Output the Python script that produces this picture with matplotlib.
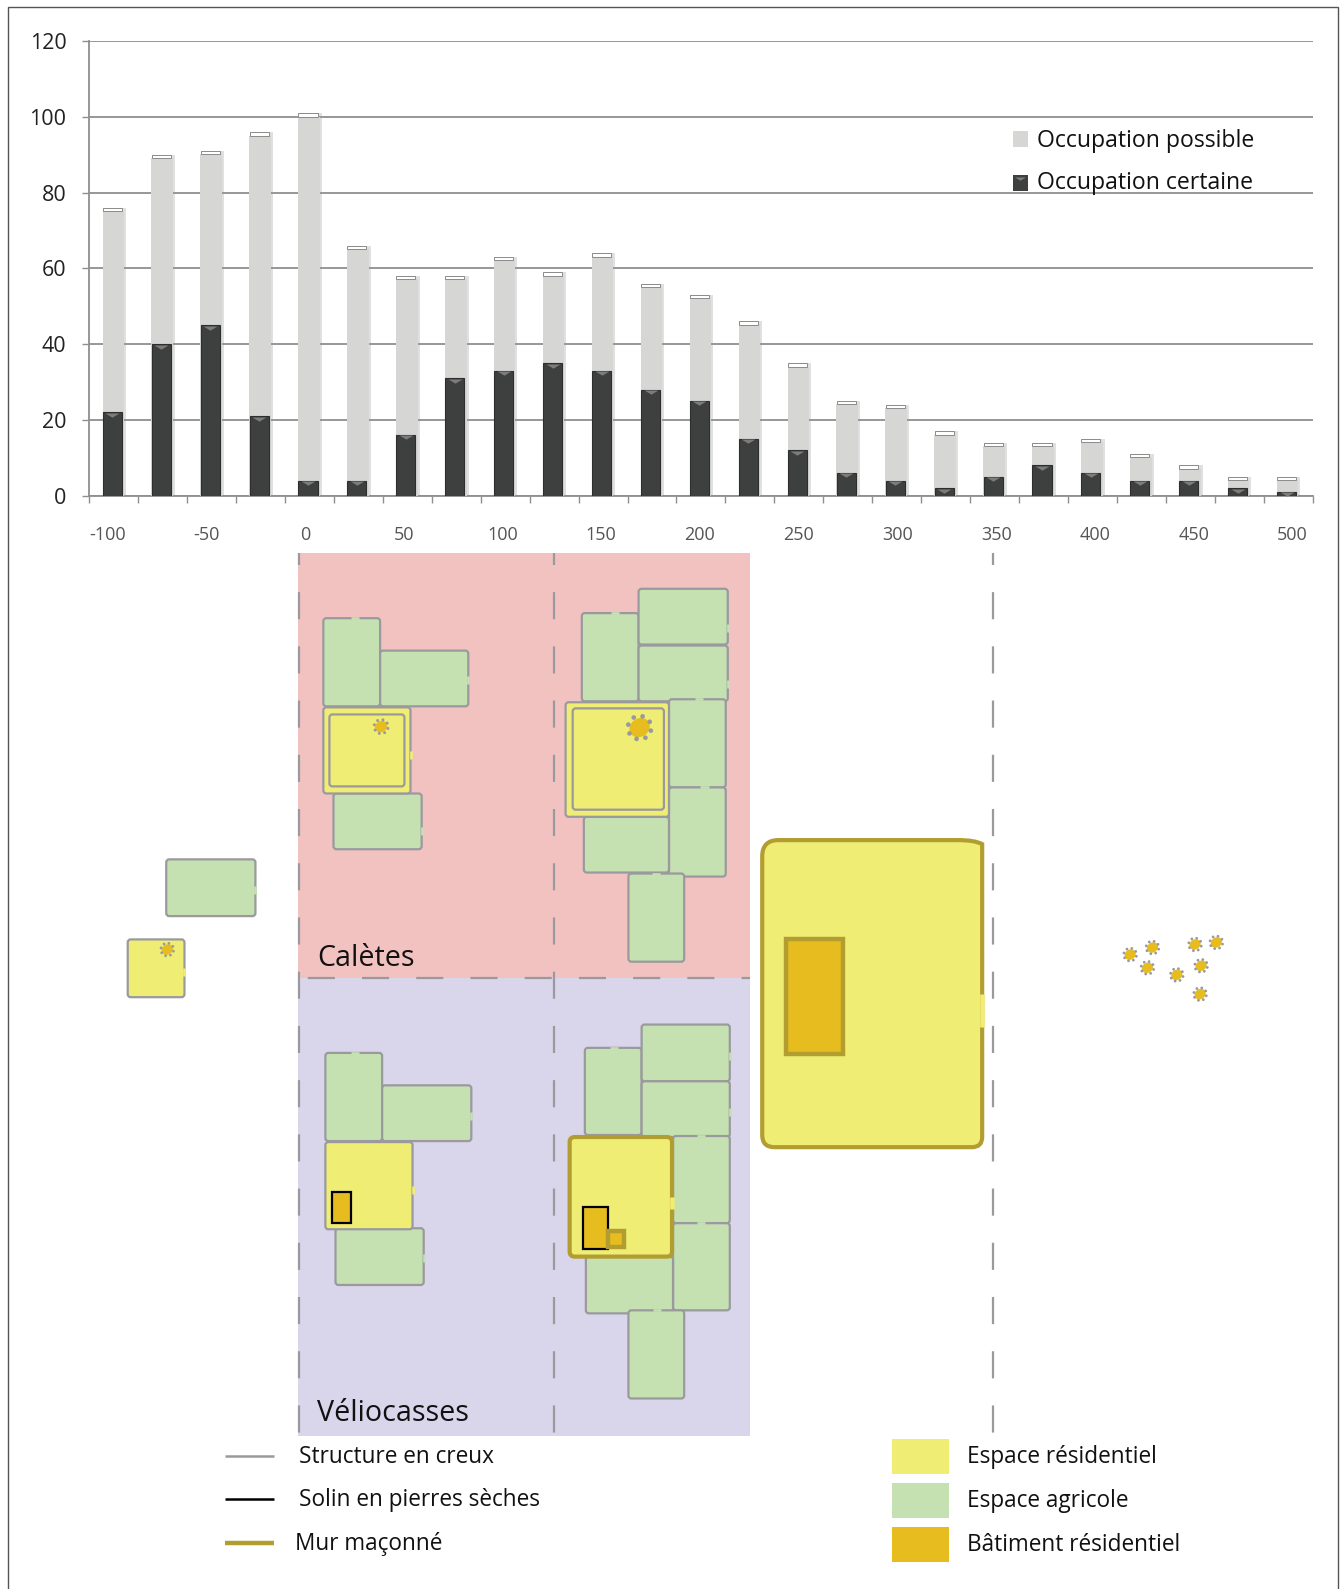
import numpy as np
import matplotlib
matplotlib.use('Agg')
import matplotlib.pyplot as plt
from matplotlib.patches import FancyBboxPatch, PathPatch, Rectangle, Ellipse
from matplotlib.path import Path

plt.rcParams['font.family'] = ['Open Sans', 'DejaVu Sans']

# chart data
years = [-100, -75, -50, -25, 0, 25, 50, 75, 100, 125, 150, 175, 200, 225, 250, 275, 300,
         325, 350, 375, 400, 425, 450, 475, 500]
certaine = [22, 40, 45, 21, 4, 4, 16, 31, 33, 35, 33, 28, 25, 15, 12, 6, 4, 2, 5, 8, 6, 4, 4, 2, 1]
total = [76, 90, 91, 96, 101, 66, 58, 58, 63, 59, 64, 56, 53, 46, 35, 25, 24, 17, 14, 14, 15, 11, 8, 5, 5]
year_labels = ['-100', '-50', '0', '50', '100', '150', '200', '250', '300', '350', '400', '450', '500']
y_ticks = [0, 20, 40, 60, 80, 100, 120]

# colours
PINK = '#f2c2c1'
LAVENDER = '#d9d5ea'
GREEN = '#c5e1b2'
YELLOW = '#f0ed75'
GOLD = '#e6bc1e'
OLIVE = '#b29d31'
GREY = '#9a9a9e'

# plan shapes: x0, y0, x1, y1, side of the opening, position of the opening
green_plots = [
    (319, 610, 375, 697, 'top', 350), (375, 642, 462, 697, 'right', 671), (329, 783, 416, 838, 'right', 820),
    (574, 605, 630, 692, 'top', 607), (630, 581, 718, 636, 'right', 620), (630, 637, 718, 692, 'right', 675),
    (660, 690, 716, 777, 'top', 690), (660, 777, 716, 865, 'top', 695), (576, 806, 660, 861, None, 0),
    (620, 862, 675, 949, 'top', 647),
    (321, 1039, 377, 1126, 'top', 350), (377, 1071, 465, 1126, 'right', 1101), (331, 1212, 418, 1268, 'right', 1241),
    (577, 1034, 633, 1120, 'top', 606), (633, 1011, 720, 1067, 'right', 1042), (633, 1067, 720, 1122, 'right', 1097),
    (664, 1121, 720, 1207, 'top', 692), (664, 1207, 720, 1293, 'top', 692), (578, 1240, 664, 1296, None, 0),
    (620, 1293, 675, 1380, 'top', 648),
    (164, 848, 252, 904, 'right', 878),
]
yellow_plots = [
    (319, 698, 405, 783, 'right', 745), (558, 693, 660, 806, None, 0),
    (321, 1127, 407, 1213, 'right', 1174), (126, 927, 182, 984, 'right', 959),
]
inner_ditches = [(325, 705, 399, 776), (565, 699, 655, 799)]
huts = [(376, 717, 6), (631, 718, 10), (165, 937, 5.5),
        (1115, 942, 5.5), (1137, 935, 5.5), (1132, 955, 5.5), (1179, 932, 5.5),
        (1200, 930, 5.5), (1161, 962, 5.5), (1185, 953, 5.5), (1184, 981, 5.5)]

fig = plt.figure(figsize=(13.41, 15.89), dpi=100)

# 1. bar chart
ax = fig.add_axes([89.3/1341, 1-495.7/1589, 1223.3/1341, 454.5/1589])
x = np.arange(len(years))
certaine = np.array(certaine)
total = np.array(total)

ax.set_axisbelow(True)
ax.yaxis.grid(True, color='#8f8f8f', lw=1.3)
ax.bar(x+0.02, total, width=0.46, color='#999999', alpha=0.3, zorder=2)
ax.bar(x-0.01, total-0.9, width=0.44, color='#d6d7d5', zorder=3)
ax.bar(x-0.03, 0.9, width=0.39, bottom=total-0.9, color='white', edgecolor='#8a8a8a', lw=0.7, zorder=3)
ax.bar(x-0.03, certaine, width=0.39, color='#3e403f', edgecolor='#2e2e2e', lw=0.8, zorder=4)
chevron = Path([(-1, 0), (1, 0), (0, -0.6), (-1, 0)], closed=True)
ax.scatter(x-0.03, certaine-0.1, marker=chevron, s=100, color='#7c7c7c', lw=0, zorder=5)

ax.set_xlim(-0.5, 24.5)
ax.set_ylim(0, 120)
ax.set_yticks(y_ticks)
ax.tick_params(axis='y', length=5, width=1, color='#8f8f8f', labelsize=15.5, labelcolor='#222222', pad=11.5)
ax.set_xticks(np.arange(-0.5, 25, 1), minor=True)
ax.set_xticks(np.linspace(-0.13, 24.09, 13))
ax.set_xticklabels(year_labels)
ax.tick_params(axis='x', which='major', length=0, labelsize=13, labelcolor='#555555', pad=22)
ax.tick_params(axis='x', which='minor', length=5, width=1, color='#8f8f8f')
for side in ['top', 'right']:
    ax.spines[side].set_visible(False)
for side in ['left', 'bottom']:
    ax.spines[side].set_color('#8f8f8f')
    ax.spines[side].set_linewidth(1.3)

# 2. plan on top, in the px coordinates of the picture
ov = fig.add_axes([0, 0, 1, 1], facecolor='none')
ov.set_xlim(0, 1323)
ov.set_ylim(1568, 0)
ov.axis('off')

ov.add_patch(Rectangle((7.5, 7), 1312.5, 1600, fc='none', ec='#555555', lw=1))
ov.add_patch(Rectangle((294, 546), 446, 419, fc=PINK, ec='none'))
ov.add_patch(Rectangle((294, 965), 446, 452, fc=LAVENDER, ec='none'))

for lx in [294.5, 547, 980]:
    ov.plot([lx, lx], [546, 1417], color=GREY, lw=1.6, ls=(6.8, (12.2, 12.2)))
ov.plot([294, 740], [965, 965], color=GREY, lw=1.6, ls=(20, (12.2, 12.2)))


def plot_box(x0, y0, x1, y1, fc, ec=GREY, lw=1.6, r=3, side=None, pos=0, gap=4):
    ov.add_patch(FancyBboxPatch((x0+r, y0+r), x1-x0-2*r, y1-y0-2*r,
                                boxstyle=f'round,pad={r},rounding_size={r}',
                                fc=fc, ec=ec, lw=lw))
    if side == 'top':
        ov.plot([pos-gap, pos+gap], [y0, y0], color=fc, lw=lw+0.3, solid_capstyle='butt')
    if side == 'right':
        ov.plot([x1, x1], [pos-gap, pos+gap], color=fc, lw=lw+0.3, solid_capstyle='butt')


for x0, y0, x1, y1, side, pos in green_plots:
    plot_box(x0, y0, x1, y1, GREEN, side=side, pos=pos)
for x0, y0, x1, y1, side, pos in yellow_plots:
    plot_box(x0, y0, x1, y1, YELLOW, side=side, pos=pos)
for x0, y0, x1, y1 in inner_ditches:
    plot_box(x0, y0, x1, y1, 'none')

# walled buildings
plot_box(562, 1122, 663, 1240, YELLOW, ec=OLIVE, lw=3, r=5, side='right', pos=1187, gap=6)

# big building, its top right corner is cut flatter than the others
big_wall = Path([(752, 845), (752, 829), (768, 829), (945, 829), (962, 829), (969, 833), (969, 838),
                 (969, 1122), (969, 1132), (959, 1132), (764, 1132), (752, 1132), (752, 1120), (752, 845)],
                [Path.MOVETO, Path.CURVE3, Path.CURVE3, Path.LINETO, Path.CURVE3, Path.CURVE3, Path.LINETO,
                 Path.LINETO, Path.CURVE3, Path.CURVE3, Path.LINETO, Path.CURVE3, Path.CURVE3, Path.CLOSEPOLY])
ov.add_patch(PathPatch(big_wall, fc=YELLOW, ec=OLIVE, lw=3))
ov.plot([969, 969], [981, 1013], color=YELLOW, lw=3.3, solid_capstyle='butt')

ov.add_patch(Rectangle((775, 927), 57, 113, fc=GOLD, ec=OLIVE, lw=3.2))
ov.add_patch(Rectangle((327.5, 1176.5), 19, 30, fc=GOLD, ec='black', lw=1.6))
ov.add_patch(Rectangle((575, 1191), 25, 41, fc=GOLD, ec='black', lw=1.6))
ov.add_patch(Rectangle((600, 1215), 16, 16, fc=GOLD, ec=OLIVE, lw=3.2))

# huts
for hx, hy, hr in huts:
    ov.add_patch(Ellipse((hx, hy), 2*hr*1.05, 2*hr*0.9, angle=-35, fc=GOLD, ec='none'))
    for a in np.arange(0, 360, 45)+15:
        dot = hr*0.42+0.4
        ov.add_patch(Ellipse((hx+1.15*hr*np.cos(np.radians(a)), hy+1.15*hr*np.sin(np.radians(a))),
                             dot, dot, fc=GREY, ec='none'))

ov.text(313, 946, 'Calètes', fontsize=20.6, color='#111111', va='center')
ov.text(313, 1395, 'Véliocasses', fontsize=20.6, color='#111111', va='center')

# 3. legends
ov.add_patch(Rectangle((999, 129), 15, 16, fc='#d6d7d5', ec='none'))
ov.add_patch(Rectangle((999, 173), 15, 15, fc='#3e403f', ec='none'))
ov.scatter([1006.5], [174.5], marker=chevron, s=60, color='#7c7c7c', lw=0)
ov.text(1023, 139, 'Occupation possible', fontsize=16.6, color='#111111', va='center')
ov.text(1023, 181, 'Occupation certaine', fontsize=16.6, color='#111111', va='center')

line_labels = ['Structure en creux', 'Solin en pierres sèches', 'Mur maçonné']
line_colors = [GREY, 'black', OLIVE]
line_widths = [1.8, 1.8, 3.2]
line_y = [1437, 1479, 1523]
label_x = [295, 295, 291]
for lab, col, w, ly, lx in zip(line_labels, line_colors, line_widths, line_y, label_x):
    ov.plot([222, 270], [ly, ly], color=col, lw=w, solid_capstyle='butt')
    ov.text(lx, ly+1, lab, fontsize=16.3, color='#111111', va='center')

swatch_labels = ['Espace résidentiel', 'Espace agricole', 'Bâtiment résidentiel']
swatch_colors = [YELLOW, GREEN, GOLD]
swatch_y = [1420, 1463, 1507]
for lab, col, sy in zip(swatch_labels, swatch_colors, swatch_y):
    ov.add_patch(Rectangle((880, sy), 56, 34.5, fc=col, ec='none'))
    ov.text(954.5, sy+18, lab, fontsize=16.3, color='#111111', va='center')

fig.savefig('out.png', dpi=100)
